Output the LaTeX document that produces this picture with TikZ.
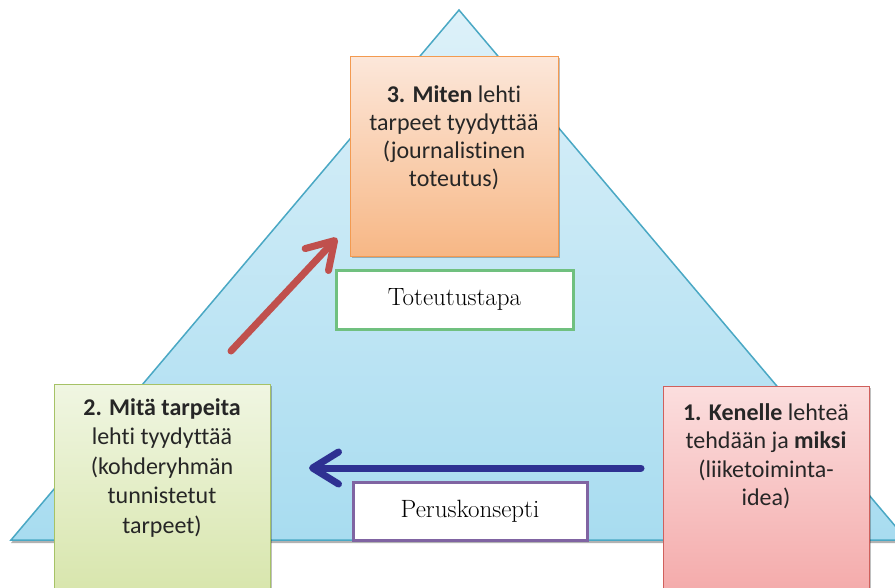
\documentclass[tikz,border=0pt]{standalone}
\usepackage{fontspec}
\newfontfamily\calib[Ligatures=NoCommon]{Carlito}
\usetikzlibrary{arrows.meta,shadows}
\definecolor{tritop}{HTML}{DDF1F9}
\definecolor{tribot}{HTML}{A8DCF0}
\definecolor{triline}{HTML}{4AA8C4}
\definecolor{otop}{HTML}{FCE7DA}
\definecolor{obot}{HTML}{F7B785}
\definecolor{oline}{HTML}{F39A50}
\definecolor{gtop}{HTML}{F0F6E2}
\definecolor{gbot}{HTML}{D4E3A4}
\definecolor{gline}{HTML}{A6C266}
\definecolor{rtop}{HTML}{FBDEDE}
\definecolor{rbot}{HTML}{F3A2A2}
\definecolor{rline}{HTML}{D0605C}
\definecolor{lgreen}{HTML}{70C07F}
\definecolor{lpurple}{HTML}{8064A2}
\definecolor{arred}{HTML}{C0504D}
\definecolor{arblue}{HTML}{2E3192}
\definecolor{txtgray}{HTML}{262626}
\tikzset{
  boxshadow/.style={drop shadow={shadow xshift=1.5pt,shadow yshift=-1.5pt,opacity=0.25,fill=black}},
  colbox/.style={rectangle,anchor=north west,line width=1.2pt,inner sep=0pt,boxshadow},
  btext/.style={align=center,inner sep=0pt,text=txtgray},
  lbl/.style={rectangle,fill=white,line width=3pt,inner sep=0pt,font=\fontsize{25}{30}\selectfont},
  fatarrow/.style={line width=7pt,line cap=round,-{Straight Barb[length=26pt,width=32pt,round]}}
}
\begin{document}
\begin{tikzpicture}[x=1pt,y=-1pt]
\useasboundingbox (0,0) rectangle (895,587);
\begin{scope}
\clip (0,0) rectangle (895,587);
\fill[white] (0,0) rectangle (895,587);
% triangle
\coordinate (apex) at (459,10);
\coordinate (bl) at (11,540);
\coordinate (br) at (907,540);
\shade[top color=tritop,bottom color=tribot,draw=triline,line width=1.5pt,line join=miter,
  drop shadow={shadow xshift=0pt,shadow yshift=-3pt,opacity=0.3,fill=black}]
  (apex) -- (br) -- (bl) -- cycle;
% arrows
\coordinate (rs) at (231,351);
\coordinate (re) at (337,238);
\draw[fatarrow,arred] (rs) -- (re);
\coordinate (bs) at (641,468);
\coordinate (be) at (309,468);
\draw[fatarrow,arblue] (bs) -- (be);
% colored boxes
\node[colbox,draw=oline,top color=otop,bottom color=obot,minimum width=208pt,minimum height=200pt] (ob) at (350,56) {};
\node[colbox,draw=gline,top color=gtop,bottom color=gbot,minimum width=216pt,minimum height=240pt] (gb) at (54,384) {};
\node[colbox,draw=rline,top color=rtop,bottom color=rbot,minimum width=206pt,minimum height=240pt] (rb) at (663,386) {};
% texts
\node[btext,anchor=north,font=\calib\fontsize{24}{28}\selectfont] (ot) at (454,85)
  {\textbf{3. Miten} lehti\\tarpeet tyydyttää\\(journalistinen\\toteutus)};
\node[btext,anchor=north,font=\calib\fontsize{24}{29.5}\selectfont] (gt) at (162,398)
  {\textbf{2. Mitä tarpeita}\\lehti tyydyttää\\(kohderyhmän\\tunnistetut\\tarpeet)};
\node[btext,anchor=north,font=\calib\fontsize{24}{28.5}\selectfont] (rt) at (766,403)
  {\textbf{1. Kenelle} lehteä\\tehdään ja \textbf{miksi}\\(liiketoiminta-\\idea)};
% labels
\node[lbl,draw=lgreen,minimum width=237pt,minimum height=59pt] (tt) at (454.5,299.5) {Toteutustapa};
\node[lbl,draw=lpurple,minimum width=234pt,minimum height=58pt] (pk) at (470,511) {Peruskonsepti};
\end{scope}
\end{tikzpicture}
\end{document}
